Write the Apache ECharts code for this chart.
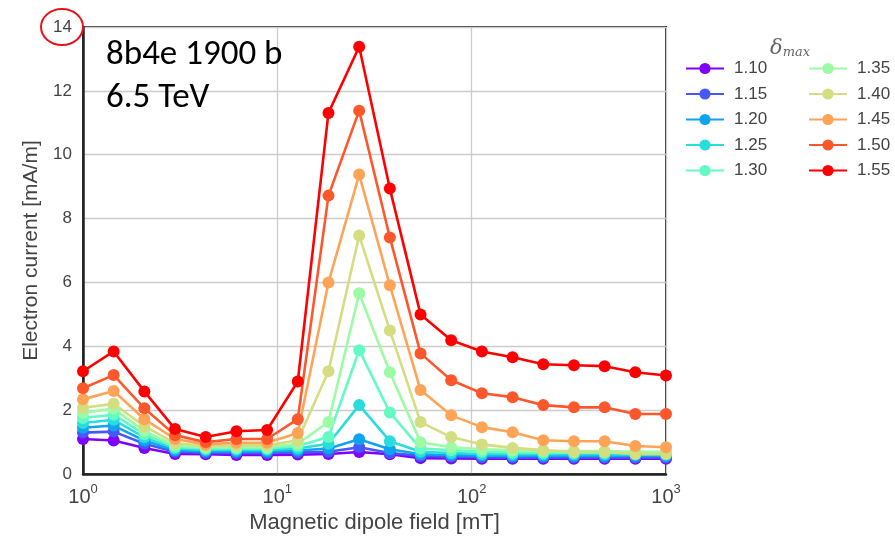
<!DOCTYPE html>
<html>
<head>
<meta charset="utf-8">
<script src="https://cdn.jsdelivr.net/npm/echarts@6/dist/echarts.min.js"></script>
<style>
html,body{margin:0;padding:0;background:#fff;}
#c{width:895px;height:539px;}
</style>
</head>
<body>
<div id="c"></div>
<script>
// Magnetic dipole field [mT]
const fieldValues = [1, 1.438, 2.069, 2.976, 4.281, 6.158, 8.859, 12.74, 18.33, 26.37, 37.93, 54.56, 78.48, 112.9, 162.4, 233.6, 336.0, 483.3, 695.2, 1000];
const seriesNames = ['1.10', '1.15', '1.20', '1.25', '1.30', '1.35', '1.40', '1.45', '1.50', '1.55'];
const d110 = [1.1, 1.05, 0.82, 0.63, 0.62, 0.6, 0.6, 0.61, 0.63, 0.69, 0.62, 0.5, 0.49, 0.48, 0.48, 0.48, 0.48, 0.48, 0.48, 0.48];
const d115 = [1.3, 1.33, 0.95, 0.7, 0.67, 0.66, 0.66, 0.68, 0.7, 0.84, 0.66, 0.57, 0.55, 0.53, 0.52, 0.52, 0.52, 0.52, 0.52, 0.52];
const d120 = [1.45, 1.52, 1.05, 0.75, 0.72, 0.71, 0.71, 0.74, 0.8, 1.09, 0.78, 0.62, 0.6, 0.58, 0.57, 0.57, 0.57, 0.57, 0.57, 0.57];
const d125 = [1.6, 1.7, 1.15, 0.8, 0.76, 0.76, 0.76, 0.8, 0.95, 2.16, 1.03, 0.7, 0.66, 0.63, 0.62, 0.62, 0.62, 0.62, 0.61, 0.61];
const d130 = [1.76, 1.86, 1.25, 0.85, 0.8, 0.8, 0.8, 0.88, 1.16, 3.88, 1.93, 0.8, 0.75, 0.7, 0.68, 0.67, 0.67, 0.67, 0.66, 0.66];
const d135 = [1.92, 2.05, 1.35, 0.9, 0.84, 0.84, 0.84, 0.95, 1.63, 5.66, 3.19, 1.0, 0.84, 0.78, 0.75, 0.72, 0.72, 0.72, 0.7, 0.7];
const d140 = [2.08, 2.2, 1.5, 0.97, 0.88, 0.9, 0.9, 1.06, 3.22, 7.47, 4.5, 1.63, 1.16, 0.93, 0.82, 0.75, 0.69, 0.69, 0.63, 0.63];
const d145 = [2.34, 2.6, 1.72, 1.1, 0.93, 0.98, 0.98, 1.29, 6.0, 9.38, 5.91, 2.63, 1.84, 1.47, 1.31, 1.06, 1.03, 1.03, 0.88, 0.84];
const d150 = [2.69, 3.1, 2.06, 1.22, 1.0, 1.1, 1.1, 1.72, 8.72, 11.38, 7.41, 3.78, 2.94, 2.53, 2.41, 2.16, 2.09, 2.09, 1.88, 1.88];
const d155 = [3.22, 3.84, 2.59, 1.41, 1.16, 1.34, 1.38, 2.9, 11.31, 13.38, 8.94, 5.0, 4.19, 3.84, 3.66, 3.44, 3.41, 3.38, 3.19, 3.09];
const yTicks = [0, 2, 4, 6, 8, 10, 12, 14];
const xTickExponents = [0, 1, 2, 3];

const allData = [d110, d115, d120, d125, d130, d135, d140, d145, d150, d155];
const colors = ['#8000ff', '#4757fb', '#0ea4f0', '#2adddd', '#63fbc3', '#9cfba4', '#d4dd80', '#ffa457', '#ff572c', '#ff0000'];

const chart = echarts.init(document.getElementById('c'), null, {renderer: 'canvas'});

const series = seriesNames.map((name, i) => ({
  name: name,
  type: 'line',
  data: fieldValues.map((x, k) => [x, allData[i][k]]),
  symbol: 'circle',
  symbolSize: 12,
  showSymbol: true,
  lineStyle: {width: 2.6, color: colors[i]},
  itemStyle: {color: colors[i]},
  emphasis: {disabled: true},
  animation: false
}));

const legendCommon = {
  orient: 'vertical',
  top: 55,
  itemWidth: 38,
  itemHeight: 14,
  itemGap: 8.5,
  textStyle: {fontFamily: 'Liberation Sans, Arial', fontSize: 17, color: '#444', padding: [0, 0, 0, 5]},
  inactiveColor: '#ccc'
};

chart.setOption({
  animation: false,
  backgroundColor: '#fff',
  color: colors,
  grid: {
    left: 83, right: 229, top: 27, bottom: 62,
    show: true, borderColor: '#333', borderWidth: 2, backgroundColor: 'transparent'
  },
  title: {
    text: '{d|δ}{s|max}',
    left: 765, top: 30,
    textStyle: {
      fontWeight: 'normal',
      rich: {
        d: {fontFamily: 'DejaVu Serif', fontStyle: 'italic', fontWeight: 'normal', fontSize: 21, color: '#666', verticalAlign: 'bottom', lineHeight: 24},
        s: {fontFamily: 'DejaVu Serif', fontStyle: 'italic', fontWeight: 'normal', fontSize: 13, color: '#666', verticalAlign: 'bottom', lineHeight: 18}
      }
    }
  },
  legend: [
    Object.assign({left: 680, data: seriesNames.slice(0, 5)}, legendCommon),
    Object.assign({left: 803, data: seriesNames.slice(5)}, legendCommon)
  ],
  xAxis: {
    type: 'log',
    logBase: 10,
    min: 1,
    max: 1000,
    name: 'Magnetic dipole field [mT]',
    nameLocation: 'middle',
    nameGap: 36,
    nameTextStyle: {fontFamily: 'Liberation Sans, Arial', fontSize: 22, color: '#444'},
    axisLine: {show: true, lineStyle: {color: '#222', width: 2.5}},
    axisTick: {show: false},
    splitLine: {show: true, lineStyle: {color: '#cccccc', width: 1.3}},
    minorTick: {show: false},
    axisLabel: {
      margin: 9,
      showMinLabel: true,
      showMaxLabel: true,
      formatter: function (v) {
        const e = Math.round(Math.log10(v));
        if (xTickExponents.indexOf(e) < 0) return '';
        return '{b|10}{s|' + e + '}';
      },
      rich: {
        b: {fontFamily: 'Liberation Sans, Arial', fontSize: 20, color: '#444', verticalAlign: 'bottom', lineHeight: 24},
        s: {fontFamily: 'Liberation Sans, Arial', fontSize: 13, color: '#444', verticalAlign: 'top', lineHeight: 24}
      }
    }
  },
  yAxis: {
    type: 'value',
    min: yTicks[0],
    max: yTicks[yTicks.length - 1],
    interval: 2,
    name: 'Electron current [mA/m]',
    nameLocation: 'middle',
    nameGap: 41,
    nameTextStyle: {fontFamily: 'Liberation Sans, Arial', fontSize: 21, color: '#444'},
    axisLine: {show: true, lineStyle: {color: '#222', width: 2.5}},
    axisTick: {show: false},
    splitLine: {show: true, lineStyle: {color: '#cccccc', width: 1.3}},
    axisLabel: {fontFamily: 'Liberation Sans, Arial', fontSize: 17, color: '#444', margin: 11}
  },
  graphic: [
    {
      type: 'text', left: 106, top: 38, z: 100,
      style: {text: '8b4e 1900 b', font: '35px Carlito, Lato, sans-serif', fill: '#000'}
    },
    {
      type: 'text', left: 106, top: 81, z: 100,
      style: {text: '6.5 TeV', font: '35px Carlito, Lato, sans-serif', fill: '#000'}
    },
    {
      type: 'ellipse', z: 100,
      shape: {cx: 62, cy: 27, rx: 21, ry: 18},
      style: {fill: 'none', stroke: '#e8141b', lineWidth: 2}
    }
  ],
  series: series
});
</script>
</body>
</html>
